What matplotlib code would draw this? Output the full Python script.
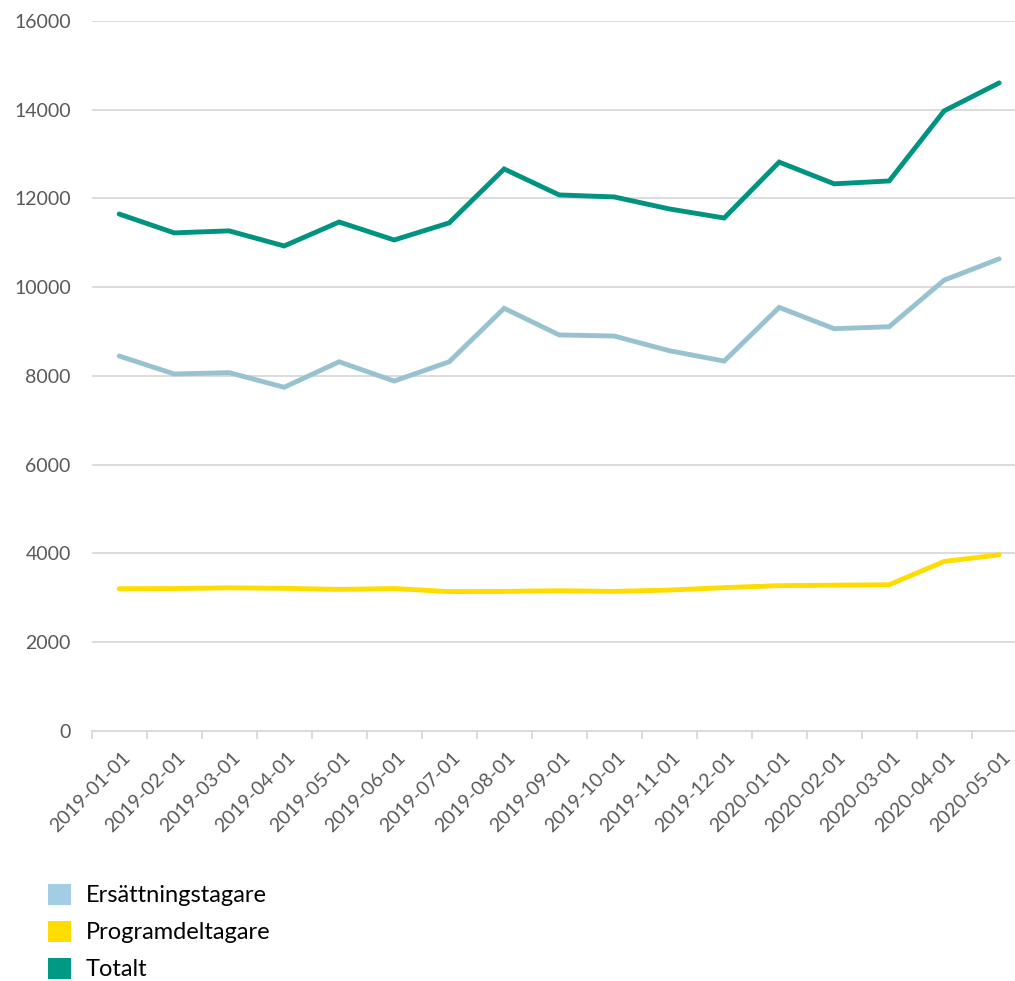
import matplotlib.pyplot as plt
from matplotlib.patches import Patch
from matplotlib.ticker import FixedLocator
from matplotlib.transforms import ScaledTranslation

plt.rcParams["font.family"] = ["Lato", "DejaVu Sans"]

months = [
    "2019-01-01", "2019-02-01", "2019-03-01", "2019-04-01", "2019-05-01",
    "2019-06-01", "2019-07-01", "2019-08-01", "2019-09-01", "2019-10-01",
    "2019-11-01", "2019-12-01", "2020-01-01", "2020-02-01", "2020-03-01",
    "2020-04-01", "2020-05-01",
]
ersattning = [8450, 8045, 8075, 7745, 8320, 7885, 8320, 9525, 8925, 8900,
              8570, 8335, 9545, 9065, 9110, 10160, 10640]
program = [3205, 3210, 3225, 3215, 3190, 3210, 3140, 3145, 3160, 3145,
           3175, 3230, 3275, 3285, 3295, 3820, 3970]
totalt = [11650, 11225, 11270, 10930, 11470, 11065, 11450, 12665, 12080, 12035,
          11765, 11560, 12820, 12330, 12395, 13975, 14605]

series = [
    ("Ersättningstagare", ersattning, "#98c2cf", "#a2cde5"),
    ("Programdeltagare", program, "#ffdc00", "#ffdd00"),
    ("Totalt", totalt, "#00937f", "#009a84"),
]

fig = plt.figure(figsize=(10.15, 9.81), dpi=100)
ax = fig.add_axes([0.0903, 0.2549, 0.9212, 0.7237])

x = list(range(len(months)))
for name, vals, col, _ in series:
    ax.plot(x, vals, color=col, lw=3.5, solid_capstyle="round",
            solid_joinstyle="miter", zorder=3)

ax.set_xlim(-0.5, len(months) - 0.5)
ax.set_ylim(0, 16000)
ax.set_yticks(range(0, 16001, 2000))
ax.yaxis.grid(True, color="#d9d9d9", lw=1.3)
ax.set_axisbelow(True)

ax.set_xticks(x)
ax.set_xticklabels(months, rotation=45, ha="right", va="top",
                   rotation_mode="anchor", fontsize=14, color="#595959")
ax.tick_params(axis="x", which="major", length=0, pad=13)
shift = ScaledTranslation(2 / 72, 0, fig.dpi_scale_trans)
for lab in ax.get_xticklabels():
    lab.set_transform(lab.get_transform() + shift)
ax.xaxis.set_minor_locator(FixedLocator([i - 0.5 for i in range(len(months) + 1)]))
ax.tick_params(axis="x", which="minor", length=6, width=1.3, color="#d9d9d9")
ax.tick_params(axis="y", length=0, pad=15, labelsize=14, labelcolor="#595959")

for side in ["top", "right", "left"]:
    ax.spines[side].set_visible(False)
ax.spines["bottom"].set_color("#d9d9d9")
ax.spines["bottom"].set_linewidth(1.3)

handles = [Patch(facecolor=lc, edgecolor="none") for _, _, _, lc in series]
fig.legend(handles, [s[0] for s in series], loc="upper left",
           bbox_to_anchor=(0.047, 0.099), frameon=False, fontsize=17,
           handlelength=0.97, handleheight=0.97, handletextpad=0.65,
           labelspacing=0.62, borderaxespad=0, borderpad=0)

fig.savefig("out.png", dpi=100)
